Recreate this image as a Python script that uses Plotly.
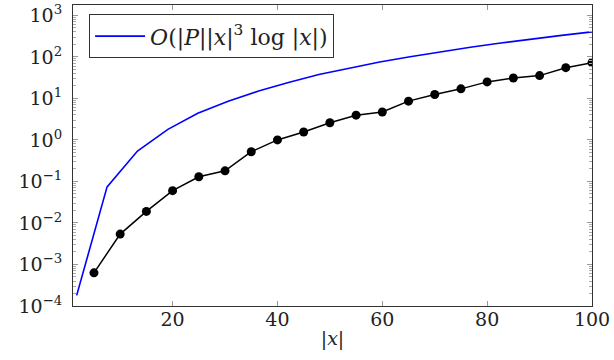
import plotly.graph_objects as go

# Measured series (black dots)
x_meas = [5, 10, 15, 20, 25, 30, 35, 40, 45, 50, 55, 60, 65, 70, 75, 80, 85, 90, 95, 100]
y_meas = [6.3e-4, 5.4e-3, 0.019, 0.060, 0.13, 0.18, 0.52, 1.0, 1.55, 2.6, 3.95, 4.7,
          8.6, 12.4, 17.0, 25.0, 31.0, 35.4, 55.0, 72.6]

# Reference bound curve (blue)
x_bound = [1.7, 7.5, 13.3, 19.1, 24.8, 30.6, 36.4, 42.1, 47.9, 53.7, 59.5, 65.3,
           71.1, 76.8, 82.6, 88.4, 94.2, 100]
y_bound = [1.8e-4, 0.074, 0.54, 1.8, 4.4, 8.5, 15.1, 24.3, 37.5, 53.7, 75.0, 101,
           133, 171, 216, 269, 330, 400]

y_tickvals = [1e-4, 1e-3, 1e-2, 1e-1, 1e0, 1e1, 1e2, 1e3]
y_ticktext = ["10<sup>\u22124</sup>", "10<sup>\u22123</sup>", "10<sup>\u22122</sup>",
              "10<sup>\u22121</sup>", "10<sup>0</sup>", "10<sup>1</sup>",
              "10<sup>2</sup>", "10<sup>3</sup>"]
x_tickvals = [20, 40, 60, 80, 100]

legend_label = ("<i>O</i>(|<i>P</i>||<i>x</i>|<sup>3</sup> log |<i>x</i>|)")
x_title = "|<i>x</i>|"

FONT = "DejaVu Serif"
TXT = "#222222"

fig = go.Figure()
fig.add_trace(go.Scatter(
    x=x_bound, y=y_bound, mode="lines", name=legend_label,
    line=dict(color="#0000ff", width=1.6), showlegend=True))
fig.add_trace(go.Scatter(
    x=x_meas, y=y_meas, mode="lines+markers", name="measured",
    line=dict(color="black", width=1.5),
    marker=dict(color="black", size=9), showlegend=False))

axis_common = dict(
    showline=True, linecolor="#333333", linewidth=1, mirror="allticks",
    ticks="inside", tickcolor="#999999", showgrid=False, zeroline=False,
    automargin=False,
    tickfont=dict(family=FONT, size=19, color=TXT),
)

fig.update_layout(
    width=614, height=360,
    margin=dict(l=73, r=22, t=5, b=54),
    paper_bgcolor="white", plot_bgcolor="white",
    font=dict(family=FONT, color=TXT),
    xaxis=dict(range=[1, 100], tickvals=x_tickvals, ticklen=5, ticklabelstandoff=-4,
               title=dict(text=x_title, font=dict(family=FONT, size=19, color=TXT),
                          standoff=2),
               **axis_common),
    yaxis=dict(type="log", range=[-4, 3.25], tickvals=y_tickvals, ticktext=y_ticktext,
               ticklen=5, ticklabelstandoff=6,
               minor=dict(ticks="inside", ticklen=3, tickcolor="#aaaaaa", dtick="D1"),
               **axis_common),
    legend=dict(x=0.031, y=0.969, xanchor="left", yanchor="top",
                bgcolor="white", bordercolor="#333333", borderwidth=1,
                itemwidth=50,
                font=dict(family=FONT, size=22, color=TXT)),
)

fig.write_html("out.html", config={"displayModeBar": False},
               post_script="document.body.style.margin='0';document.body.style.padding='0';")
